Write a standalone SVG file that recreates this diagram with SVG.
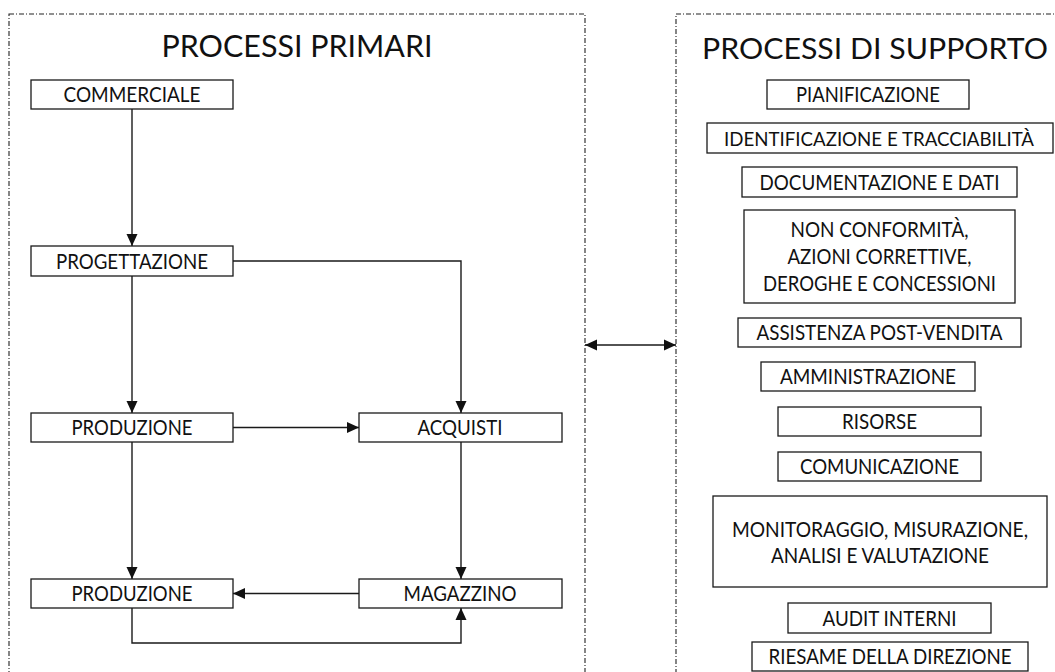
<svg xmlns="http://www.w3.org/2000/svg" width="1055" height="672" viewBox="0 0 1055 672">
<style>
.frame{fill:none;stroke:#222;stroke-width:1.1;stroke-dasharray:5 2 1 2}
.box{fill:#fff;stroke:#1a1a1a;stroke-width:1.3}
.t{font-family:Lato,"Open Sans","Liberation Sans",sans-serif;font-size:20.5px;fill:#111;text-anchor:middle}
.title{font-family:Lato,"Open Sans","Liberation Sans",sans-serif;font-size:31px;fill:#111;text-anchor:middle}
.c{fill:none;stroke:#1a1a1a;stroke-width:1.4}
</style>
<defs>
<marker id="ah" markerUnits="userSpaceOnUse" markerWidth="12" markerHeight="12" refX="12" refY="6" orient="auto-start-reverse" viewBox="0 0 12 12">
<path d="M0,0.5 L12,6 L0,11.5 z" fill="#111"/>
</marker>
</defs>
<rect width="1055" height="672" fill="#fff"/>
<g id="frames">
<rect class="frame" x="9" y="14" width="576" height="720"/>
<rect class="frame" x="676" y="14" width="420" height="720"/>
<text class="title" x="297" y="57" textLength="271" lengthAdjust="spacingAndGlyphs">PROCESSI PRIMARI</text>
<text class="title" x="875" y="59" textLength="346" lengthAdjust="spacingAndGlyphs" style="font-size:29.5px">PROCESSI DI SUPPORTO</text>
</g>
<g id="connectors">
<path class="c" d="M132,109 V246" marker-end="url(#ah)"/>
<path class="c" d="M233,261 H461 V413" marker-end="url(#ah)"/>
<path class="c" d="M132,276 V413" marker-end="url(#ah)"/>
<path class="c" d="M233,427.5 H359" marker-end="url(#ah)"/>
<path class="c" d="M132,442 V579" marker-end="url(#ah)"/>
<path class="c" d="M461,442 V579" marker-end="url(#ah)"/>
<path class="c" d="M359,593.5 H233" marker-end="url(#ah)"/>
<path class="c" d="M132,608 V643 H461 V608" marker-end="url(#ah)"/>
<path class="c" d="M585,345 H676" marker-start="url(#ah)" marker-end="url(#ah)"/>
</g>
<g id="commerciale"><rect class="box" x="31" y="80" width="202" height="29"/><text class="t" x="132" y="102" textLength="137" lengthAdjust="spacingAndGlyphs">COMMERCIALE</text></g>
<g id="progettazione"><rect class="box" x="31" y="246" width="202" height="30"/><text class="t" x="132" y="268.5" textLength="152" lengthAdjust="spacingAndGlyphs">PROGETTAZIONE</text></g>
<g id="produzione1"><rect class="box" x="31" y="413" width="202" height="29"/><text class="t" x="132" y="434.5" textLength="121" lengthAdjust="spacingAndGlyphs">PRODUZIONE</text></g>
<g id="acquisti"><rect class="box" x="359" y="413" width="203" height="29"/><text class="t" x="460" y="434.5" textLength="85" lengthAdjust="spacingAndGlyphs">ACQUISTI</text></g>
<g id="produzione2"><rect class="box" x="31" y="579" width="202" height="29"/><text class="t" x="132" y="600.5" textLength="121" lengthAdjust="spacingAndGlyphs">PRODUZIONE</text></g>
<g id="magazzino"><rect class="box" x="359" y="579" width="203" height="29"/><text class="t" x="460" y="600.5" textLength="113" lengthAdjust="spacingAndGlyphs">MAGAZZINO</text></g>
<g id="pianificazione"><rect class="box" x="767" y="80" width="202" height="29"/><text class="t" x="868" y="102" textLength="144" lengthAdjust="spacingAndGlyphs">PIANIFICAZIONE</text></g>
<g id="identificazione"><rect class="box" x="707" y="123" width="346" height="30"/><text class="t" x="879" y="145.5" textLength="310" lengthAdjust="spacingAndGlyphs" style="font-size:19px">IDENTIFICAZIONE E TRACCIABILITÀ</text></g>
<g id="documentazione"><rect class="box" x="742" y="167" width="275" height="30"/><text class="t" x="879.5" y="189.5" textLength="240" lengthAdjust="spacingAndGlyphs">DOCUMENTAZIONE E DATI</text></g>
<g id="nonconformita"><rect class="box" x="744" y="210" width="271" height="93"/>
<text class="t" x="879.5" y="237" textLength="178" lengthAdjust="spacingAndGlyphs">NON CONFORMITÀ,</text>
<text class="t" x="879.5" y="264" textLength="184" lengthAdjust="spacingAndGlyphs">AZIONI CORRETTIVE,</text>
<text class="t" x="879.5" y="291" textLength="233" lengthAdjust="spacingAndGlyphs">DEROGHE E CONCESSIONI</text></g>
<g id="assistenza"><rect class="box" x="738" y="318" width="283" height="29"/><text class="t" x="879.5" y="339.5" textLength="246" lengthAdjust="spacingAndGlyphs">ASSISTENZA POST-VENDITA</text></g>
<g id="amministrazione"><rect class="box" x="761" y="362" width="214" height="29"/><text class="t" x="868" y="383.5" textLength="176" lengthAdjust="spacingAndGlyphs">AMMINISTRAZIONE</text></g>
<g id="risorse"><rect class="box" x="778" y="407" width="203" height="29"/><text class="t" x="879.5" y="429" textLength="75" lengthAdjust="spacingAndGlyphs">RISORSE</text></g>
<g id="comunicazione"><rect class="box" x="778" y="452" width="203" height="29"/><text class="t" x="879.5" y="474" textLength="159" lengthAdjust="spacingAndGlyphs">COMUNICAZIONE</text></g>
<g id="monitoraggio"><rect class="box" x="713" y="496" width="334" height="91"/>
<text class="t" x="880" y="536.5" textLength="296" lengthAdjust="spacingAndGlyphs">MONITORAGGIO, MISURAZIONE,</text>
<text class="t" x="880" y="562.5" textLength="218" lengthAdjust="spacingAndGlyphs">ANALISI E VALUTAZIONE</text></g>
<g id="audit"><rect class="box" x="788" y="603" width="203" height="30"/><text class="t" x="889.5" y="625.5" textLength="134" lengthAdjust="spacingAndGlyphs">AUDIT INTERNI</text></g>
<g id="riesame"><rect class="box" x="752" y="642" width="276" height="29"/><text class="t" x="890" y="663.5" textLength="243" lengthAdjust="spacingAndGlyphs">RIESAME DELLA DIREZIONE</text></g>
</svg>
